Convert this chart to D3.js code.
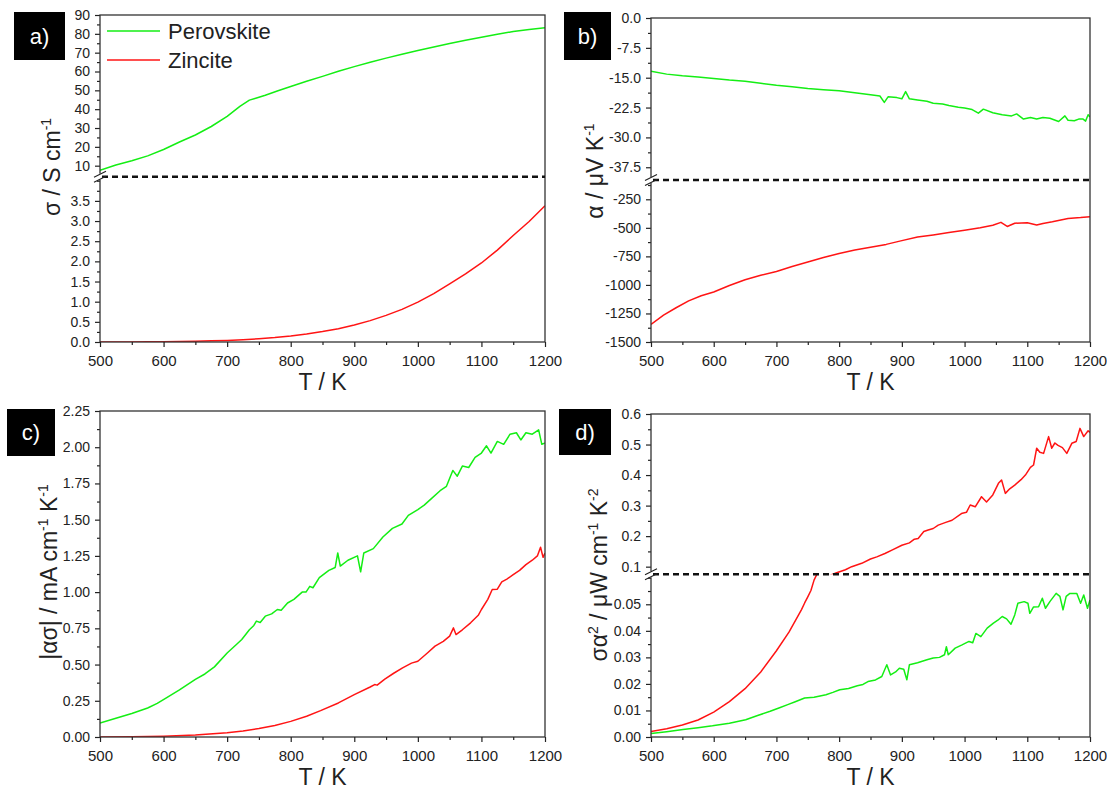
<!DOCTYPE html>
<html>
<head>
<meta charset="utf-8">
<script src="https://cdn.jsdelivr.net/npm/d3@7"></script>
<style>
  body { margin: 0; background: #fff; }
  svg { display: block; }
  text { font-family: Arial, "Liberation Sans", sans-serif; fill: #222; }
</style>
</head>
<body>
<svg id="chart" width="1107" height="793"></svg>
<script>
// ---- data (T in K) ----
const seriesNames = ["Perovskite", "Zincite"];
const xTicks = [500, 600, 700, 800, 900, 1000, 1100, 1200];

// a) conductivity, S cm-1
const sigmaPerovskite = [[500,7.6],[525,10.4],[550,12.6],[575,15.2],[600,18.6],[625,22.6],[650,26.3],[675,30.8],[700,36.2],[720,41.5],[735,44.8],[745,45.8],[760,47.4],[780,49.8],[800,52.0],[825,54.8],[850,57.4],[875,60.1],[900,62.6],[925,64.9],[950,67.1],[975,69.2],[1000,71.1],[1025,73.0],[1050,74.9],[1075,76.6],[1100,78.2],[1125,79.8],[1150,81.2],[1175,82.3],[1200,83.3]];
const sigmaZincite = [[500,0.0],[525,0.001],[550,0.003],[575,0.005],[600,0.009],[625,0.013],[650,0.02],[675,0.028],[700,0.04],[725,0.057],[750,0.08],[775,0.11],[800,0.15],[825,0.2],[850,0.26],[875,0.33],[900,0.42],[925,0.53],[950,0.66],[975,0.81],[1000,0.99],[1025,1.2],[1050,1.44],[1075,1.69],[1100,1.96],[1125,2.28],[1150,2.64],[1175,2.99],[1200,3.38]];
const sigmaLowTicks = [0, 0.5, 1, 1.5, 2, 2.5, 3, 3.5];
const sigmaHighTicks = [10, 20, 30, 40, 50, 60, 70, 80, 90];

// b) Seebeck coefficient, uV K-1
const alphaPerovskite = [[500,-13.4],[525,-14.1],[550,-14.5],[575,-14.8],[600,-15.2],[625,-15.6],[650,-15.9],[675,-16.4],[700,-16.9],[725,-17.3],[750,-17.7],[775,-18.0],[800,-18.3],[825,-18.8],[850,-19.3],[865,-19.6],[872,-21.2],[878,-19.8],[892,-20.0],[900,-20.3],[906,-18.5],[912,-20.3],[925,-20.6],[940,-20.9],[950,-21.4],[965,-21.6],[975,-22.0],[990,-22.4],[1000,-22.6],[1012,-23.0],[1022,-23.9],[1030,-22.9],[1045,-23.8],[1060,-24.3],[1075,-24.6],[1083,-24.1],[1094,-25.4],[1105,-25.0],[1115,-25.4],[1125,-25.0],[1136,-25.2],[1150,-26.0],[1160,-24.6],[1165,-25.7],[1175,-25.8],[1182,-25.4],[1189,-25.4],[1193,-25.9],[1197,-24.3],[1200,-24.9]];
const alphaZincite = [[500,-1345],[520,-1265],[540,-1200],[560,-1140],[580,-1095],[600,-1062],[625,-1005],[650,-955],[675,-915],[700,-882],[725,-838],[750,-800],[775,-760],[800,-724],[825,-695],[850,-670],[875,-645],[900,-612],[925,-580],[950,-562],[975,-541],[1000,-522],[1025,-500],[1045,-478],[1058,-452],[1068,-488],[1080,-460],[1100,-455],[1115,-476],[1125,-462],[1140,-447],[1165,-418],[1185,-410],[1200,-402]];
const alphaHighTicks = [0, -7.5, -15, -22.5, -30, -37.5];
const alphaLowTicks = [-250, -500, -750, -1000, -1250, -1500];

// c) |alpha sigma|, mA cm-1 K-1
const asPerovskite = [[500,0.097],[525,0.13],[550,0.162],[575,0.2],[590,0.232],[605,0.272],[625,0.325],[650,0.398],[665,0.435],[680,0.484],[700,0.58],[715,0.64],[723,0.673],[735,0.74],[742,0.77],[746,0.8],[752,0.79],[760,0.834],[770,0.85],[779,0.88],[785,0.875],[795,0.925],[805,0.95],[818,1.0],[824,1.0],[830,1.04],[835,1.03],[845,1.1],[860,1.15],[870,1.17],[874,1.27],[878,1.18],[890,1.22],[905,1.25],[910,1.14],[915,1.27],[930,1.3],[945,1.38],[960,1.44],[975,1.47],[985,1.53],[1000,1.57],[1010,1.6],[1020,1.64],[1035,1.7],[1045,1.73],[1055,1.84],[1062,1.8],[1070,1.87],[1080,1.86],[1090,1.93],[1100,1.96],[1108,2.01],[1115,1.96],[1125,2.04],[1135,2.02],[1145,2.09],[1155,2.1],[1162,2.05],[1170,2.1],[1180,2.09],[1190,2.12],[1195,2.02],[1200,2.03]];
const asZincite = [[500,0],[550,0.002],[600,0.006],[650,0.014],[700,0.03],[725,0.042],[750,0.058],[775,0.08],[800,0.108],[825,0.143],[847,0.182],[875,0.235],[900,0.292],[925,0.345],[932,0.362],[936,0.358],[948,0.4],[962,0.44],[976,0.477],[990,0.51],[1000,0.523],[1015,0.58],[1027,0.627],[1040,0.66],[1050,0.696],[1056,0.753],[1060,0.707],[1070,0.74],[1083,0.788],[1095,0.84],[1100,0.88],[1110,0.95],[1117,1.018],[1125,1.02],[1132,1.07],[1140,1.09],[1150,1.12],[1160,1.15],[1170,1.19],[1180,1.22],[1188,1.25],[1193,1.31],[1197,1.24],[1200,1.27]];
const asTicks = [0, 0.25, 0.5, 0.75, 1, 1.25, 1.5, 1.75, 2, 2.25];

// d) power factor, uW cm-1 K-2
const pfPerovskite = [[500,0.0013],[525,0.002],[551,0.0028],[575,0.0035],[598,0.0042],[625,0.0052],[651,0.0065],[670,0.0081],[690,0.0097],[705,0.011],[718,0.0122],[730,0.0133],[745,0.0147],[760,0.015],[779,0.0159],[790,0.0168],[801,0.0178],[815,0.0183],[829,0.0193],[838,0.0198],[846,0.0209],[858,0.0215],[868,0.0228],[876,0.0272],[882,0.0234],[890,0.0245],[896,0.0259],[903,0.0255],[908,0.0216],[912,0.0272],[925,0.028],[940,0.0291],[950,0.0298],[960,0.03],[968,0.031],[971,0.034],[974,0.031],[985,0.0335],[996,0.0347],[1007,0.036],[1013,0.0355],[1018,0.039],[1026,0.0378],[1036,0.041],[1046,0.0429],[1053,0.044],[1060,0.0454],[1067,0.0445],[1074,0.0425],[1080,0.046],[1085,0.0504],[1095,0.051],[1101,0.0504],[1104,0.0466],[1110,0.049],[1118,0.0491],[1124,0.0523],[1129,0.0485],[1136,0.051],[1146,0.0541],[1152,0.053],[1157,0.0479],[1162,0.053],[1168,0.0541],[1179,0.0541],[1185,0.0504],[1190,0.0535],[1196,0.0485],[1200,0.0516]];
const pfZincite = [[500,0.0021],[525,0.0031],[550,0.0045],[575,0.0064],[600,0.0094],[625,0.0133],[650,0.0182],[675,0.0245],[700,0.0325],[720,0.0395],[740,0.048],[745,0.0505],[750,0.0528],[755,0.0552],[760,0.0591],[770,0.064],[785,0.071],[796,0.08],[810,0.09],[820,0.1],[836,0.111],[850,0.125],[860,0.132],[873,0.143],[885,0.155],[900,0.17],[912,0.178],[920,0.19],[926,0.192],[935,0.215],[942,0.22],[950,0.225],[958,0.236],[970,0.245],[980,0.252],[995,0.274],[1003,0.278],[1009,0.302],[1017,0.296],[1027,0.329],[1035,0.312],[1045,0.335],[1054,0.373],[1059,0.384],[1065,0.34],[1072,0.355],[1080,0.367],[1090,0.385],[1097,0.4],[1105,0.425],[1110,0.433],[1115,0.488],[1120,0.475],[1126,0.471],[1134,0.526],[1139,0.488],[1144,0.505],[1149,0.497],[1156,0.49],[1163,0.471],[1171,0.504],[1178,0.51],[1184,0.553],[1190,0.526],[1197,0.545],[1200,0.54]];
const pfLowTicks = [0, 0.01, 0.02, 0.03, 0.04, 0.05];
const pfHighTicks = [0.1, 0.2, 0.3, 0.4, 0.5, 0.6];

const GREEN = "#14ee14";
const RED = "#ff1414";
const fix = n => d => d.toFixed(n);

const panels = [
  {
    tag: "a)", box: [14, 12, 51, 48],
    left: 100, right: 545, top: 15, bottom: 342,
    title: [["σ / S cm", 0], ["-1", 1]], titleX: 60, titleY: 167,
    segments: [
      { domain: [0, 4.1], range: [342, 176.7], major: sigmaLowTicks, fmt: fix(1) },
      { domain: [4.15, 90], range: [176.7, 15], major: sigmaHighTicks, fmt: fix(0) }
    ],
    series: [[sigmaPerovskite, GREEN], [sigmaZincite, RED]],
    legend: true
  },
  {
    tag: "b)", box: [564, 12, 47, 48],
    left: 651, right: 1090, top: 18, bottom: 342,
    title: [["α / μV K", 0], ["-1", 1]], titleX: 603, titleY: 171,
    segments: [
      { domain: [-1500, -81], range: [342, 180], major: alphaLowTicks, fmt: fix(0) },
      { domain: [-40.7, 0], range: [180, 18], major: alphaHighTicks, fmt: fix(1) }
    ],
    series: [[alphaPerovskite, GREEN], [alphaZincite, RED]]
  },
  {
    tag: "c)", box: [7, 409, 48, 47],
    left: 100, right: 545, top: 411, bottom: 737,
    title: [["|ασ| / mA cm", 0], ["-1", 1], [" K", 0], ["-1", 1]], titleX: 57, titleY: 572,
    segments: [
      { domain: [0, 2.25], range: [737, 411], major: asTicks, fmt: fix(2) }
    ],
    series: [[asPerovskite, GREEN], [asZincite, RED]]
  },
  {
    tag: "d)", box: [559, 409, 52, 46],
    left: 651, right: 1090, top: 414, bottom: 737,
    title: [["σα", 0], ["2", 1], [" / μW cm", 0], ["-1", 1], [" K", 0], ["-2", 1]], titleX: 607, titleY: 575,
    segments: [
      { domain: [0, 0.0613], range: [737, 574.3], major: pfLowTicks, fmt: fix(2) },
      { domain: [0.075, 0.6], range: [574.3, 414], major: pfHighTicks, fmt: fix(1) }
    ],
    series: [[pfPerovskite, GREEN], [pfZincite, RED]]
  }
];

const svg = d3.select("#chart");

function minorTicks(major, domain) {
  const half = Math.abs(major[1] - major[0]) / 2;
  const lo = Math.min(...domain), hi = Math.max(...domain);
  const pad = (hi - lo) * 0.01;
  const out = [];
  for (let k = -40; k <= 40; k++) {
    const v = major[0] + k * half;
    if (v < lo + pad || v > hi - pad + 1e-9) continue;
    if (major.some(m => Math.abs(m - v) < 1e-9)) continue;
    out.push(v);
  }
  return out;
}

function styleAxis(g, size) {
  g.select(".domain").remove();
  g.selectAll(".tick line").attr("stroke", "#222").attr("stroke-width", 1.2);
  g.selectAll(".tick text")
    .attr("fill", "#222")
    .style("font-family", "Arial, 'Liberation Sans', sans-serif")
    .style("font-size", size + "px");
}

panels.forEach((p, pi) => {
  const x = d3.scaleLinear().domain([500, 1200]).range([p.left, p.right]);

  // data lines, one copy per axis segment, clipped to it
  p.segments.forEach((seg, si) => {
    const y = d3.scaleLinear().domain(seg.domain).range(seg.range);
    const clipId = `clip-${pi}-${si}`;
    svg.append("clipPath").attr("id", clipId)
      .append("rect")
      .attr("x", p.left)
      .attr("y", seg.range[1])
      .attr("width", p.right - p.left)
      .attr("height", seg.range[0] - seg.range[1]);

    const line = d3.line().x(d => x(d[0])).y(d => y(d[1]));
    svg.append("g").attr("clip-path", `url(#${clipId})`)
      .selectAll("path")
      .data(p.series)
      .join("path")
      .attr("d", d => line(d[0]))
      .attr("fill", "none")
      .attr("stroke", d => d[1])
      .attr("stroke-width", 1.5)
      .attr("stroke-linejoin", "round");

    const gMaj = svg.append("g").attr("transform", `translate(${p.left},0)`)
      .call(d3.axisLeft(y).tickValues(seg.major).tickFormat(seg.fmt).tickSize(5).tickPadding(5));
    styleAxis(gMaj, 14);
    const gMin = svg.append("g").attr("transform", `translate(${p.left},0)`)
      .call(d3.axisLeft(y).tickValues(minorTicks(seg.major, seg.domain)).tickFormat("").tickSize(3));
    styleAxis(gMin, 14);
  });

  // frame
  svg.append("rect")
    .attr("x", p.left).attr("y", p.top)
    .attr("width", p.right - p.left).attr("height", p.bottom - p.top)
    .attr("fill", "none").attr("stroke", "#333").attr("stroke-width", 1.3);

  // axis break
  if (p.segments.length > 1) {
    const by = p.segments[0].range[1];
    svg.append("line")
      .attr("x1", p.left + 2).attr("x2", p.right)
      .attr("y1", by).attr("y2", by)
      .attr("stroke", "#111").attr("stroke-width", 2.5)
      .attr("stroke-dasharray", "6,4");
    svg.append("rect")
      .attr("x", p.left - 2).attr("y", by - 3).attr("width", 4).attr("height", 6)
      .attr("fill", "#fff");
    [-2.5, 2.5].forEach(k => {
      svg.append("line")
        .attr("x1", p.left - 6).attr("y1", by + k + 3)
        .attr("x2", p.left + 6).attr("y2", by + k - 3)
        .attr("stroke", "#222").attr("stroke-width", 1.2);
    });
  }

  // x axis
  const gx = svg.append("g").attr("transform", `translate(0,${p.bottom})`)
    .call(d3.axisBottom(x).tickValues(xTicks).tickFormat(d => d).tickSize(5).tickPadding(8));
  styleAxis(gx, 15);
  const gxm = svg.append("g").attr("transform", `translate(0,${p.bottom})`)
    .call(d3.axisBottom(x).tickValues(d3.range(550, 1200, 100)).tickFormat("").tickSize(3));
  styleAxis(gxm, 15);

  svg.append("text")
    .attr("x", (p.left + p.right) / 2)
    .attr("y", p.bottom + 48)
    .attr("text-anchor", "middle")
    .style("font-size", "23px")
    .text("T / K");

  // y title with superscripts
  const t = svg.append("text")
    .attr("transform", `translate(${p.titleX},${p.titleY}) rotate(-90)`)
    .attr("text-anchor", "middle")
    .style("font-size", "23px");
  let raised = false;
  p.title.forEach(([txt, sup]) => {
    const dy = sup ? (raised ? 0 : -9) : (raised ? 9 : 0);
    t.append("tspan")
      .attr("dy", dy)
      .style("font-size", sup ? "14px" : "23px")
      .text(txt);
    raised = !!sup;
  });

  // panel tag
  svg.append("rect")
    .attr("x", p.box[0]).attr("y", p.box[1])
    .attr("width", p.box[2]).attr("height", p.box[3])
    .attr("fill", "#000");
  svg.append("text")
    .attr("x", p.box[0] + p.box[2] / 2)
    .attr("y", p.box[1] + p.box[3] / 2)
    .attr("dy", "0.35em")
    .attr("text-anchor", "middle")
    .style("font-size", "22px")
    .style("fill", "#fff")
    .text(p.tag);

  // legend
  if (p.legend) {
    const lg = svg.append("g")
      .selectAll("g")
      .data(p.series)
      .join("g")
      .attr("transform", (d, i) => `translate(107,${31 + i * 29})`);
    lg.append("line")
      .attr("x1", 0).attr("x2", 53)
      .attr("stroke", d => d[1]).attr("stroke-width", 1.5);
    lg.append("text")
      .attr("x", 61).attr("dy", "0.35em")
      .style("font-size", "22px")
      .text((d, i) => seriesNames[i]);
  }
});
</script>
</body>
</html>
